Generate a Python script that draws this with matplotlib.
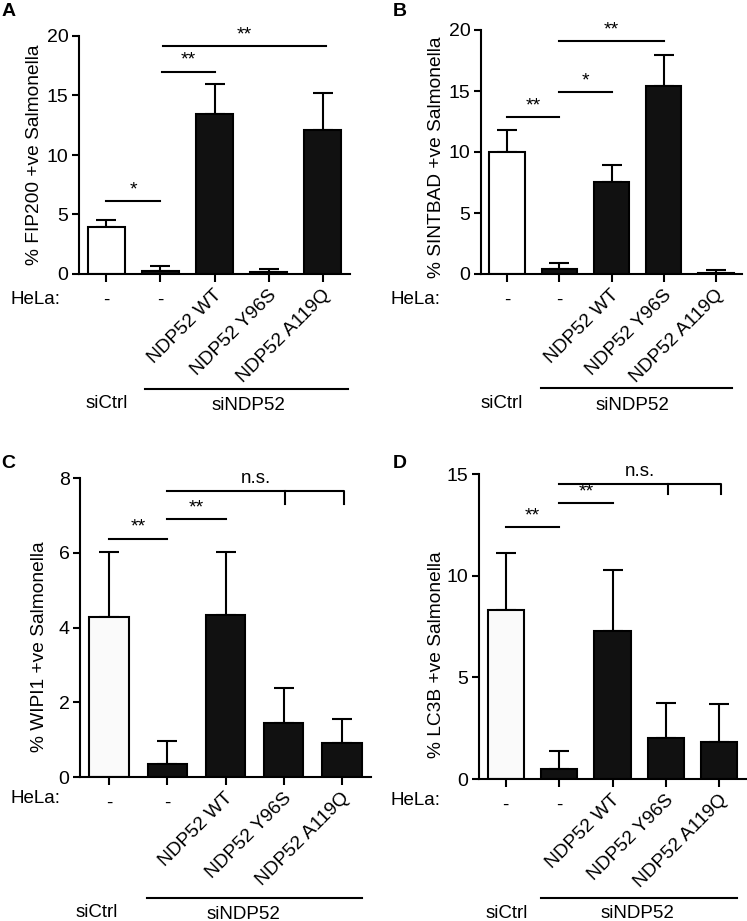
import matplotlib
matplotlib.use("Agg")
import matplotlib.pyplot as plt
from matplotlib.lines import Line2D

plt.rcParams['font.family'] = ['Liberation Sans', 'DejaVu Sans']

W, H = 747, 921

hela = ["-", "-", "NDP52 WT", "NDP52 Y96S", "NDP52 A119Q"]

# panel A - FIP200
fip_mean = [3.95, 0.25, 13.45, 0.2, 12.1]
fip_err = [0.55, 0.4, 2.5, 0.2, 3.1]
# panel B - SINTBAD
sint_mean = [10.0, 0.45, 7.55, 15.45, 0.1]
sint_err = [1.8, 0.45, 1.4, 2.5, 0.2]
# panel C - WIPI1
wipi_mean = [4.28, 0.35, 4.33, 1.45, 0.9]
wipi_err = [1.73, 0.62, 1.7, 0.93, 0.65]
# panel D - LC3B
lc3_mean = [8.32, 0.5, 7.28, 2.0, 1.82]
lc3_err = [2.8, 0.9, 3.02, 1.72, 1.87]

fig = plt.figure(figsize=(W / 100, H / 100), dpi=100)


def px_axes(l, t, r, b):
    return fig.add_axes([l / W, 1 - b / H, (r - l) / W, (b - t) / H])


def ftext(x, y, s, **kw):
    fig.text(x / W, 1 - y / H, s, **kw)


def fline(x0, x1, y):
    fig.add_artist(Line2D([x0 / W, x1 / W], [1 - y / H, 1 - y / H],
                          transform=fig.transFigure, color='black', lw=1.5))


def panel(box, means, errs, ymax, yticks, first_color, sigs, ns=None):
    ax = px_axes(*box)
    x = list(range(len(means)))
    colors = [first_color] + ['#111111'] * (len(means) - 1)
    ax.bar(x, means, width=0.68, color=colors, edgecolor='black', linewidth=1.5, zorder=2)
    ax.errorbar(x, means, yerr=[[0] * len(errs), errs], fmt='none', ecolor='black',
                elinewidth=1.5, capsize=7, capthick=1.5, zorder=1)
    ax.set_xlim(-0.5, 4.5)
    ax.set_ylim(0, ymax)
    ax.set_yticks(yticks)
    ax.set_xticks(x)
    ax.set_xticklabels([])
    for s in ['top', 'right']:
        ax.spines[s].set_visible(False)
    for s in ['left', 'bottom']:
        ax.spines[s].set_linewidth(1.5)
    ax.tick_params(axis='both', width=1.5, length=5, labelsize=14, pad=2.5)
    ax.tick_params(axis='x', length=6)
    for i, lab in enumerate(hela):
        if lab == "-":
            ax.annotate(lab, xy=(i, 0), xycoords=('data', 'axes fraction'),
                        xytext=(0, -19), textcoords='offset points',
                        ha='center', va='center', fontsize=13.5)
        else:
            ax.annotate(lab, xy=(i, 0), xycoords=('data', 'axes fraction'),
                        xytext=(8, -9), textcoords='offset points',
                        ha='right', va='top', rotation=45, fontsize=13.8)
    for a, b, yv, lab in sigs:
        ax.plot([a, b], [yv, yv], color='black', lw=1.5, clip_on=False)
        ax.annotate(lab, xy=((a + b) / 2, yv), xytext=(0, 2), textcoords='offset points',
                    ha='center', va='bottom', fontsize=14, annotation_clip=False)
    if ns is not None:
        a, b, yv, ydrop, mid = ns
        ax.plot([a, b, b], [yv, yv, ydrop], color='black', lw=1.5, clip_on=False)
        ax.plot([mid, mid], [yv, ydrop], color='black', lw=1.5, clip_on=False)
        ax.annotate("n.s.", xy=((a + b) / 2, yv), xytext=(0, 3), textcoords='offset points',
                    ha='center', va='bottom', fontsize=13.5, annotation_clip=False)
    return ax


# A
panel((79, 36, 350, 274), fip_mean, fip_err, 20, [0, 5, 10, 15, 20], 'white',
      [(0, 1, 6.15, "*"), (1.03, 2, 17.0, "**"), (1.05, 4.05, 19.15, "**")])
ftext(35, 155, "% FIP200 +ve Salmonella", rotation=90, ha='center', va='center', fontsize=13.8)
ftext(35, 299, "HeLa:", ha='center', va='center', fontsize=13.5)
fline(145, 348, 389)
ftext(107, 403, "siCtrl", ha='center', va='center', fontsize=13.5)
ftext(248, 406, "siNDP52", ha='center', va='center', fontsize=13.5)
ftext(9, 12, "A", ha='center', va='center', fontsize=14, fontweight='bold')

# B
panel((481, 30, 742, 274), sint_mean, sint_err, 20, [0, 5, 10, 15, 20], 'white',
      [(0, 1, 12.85, "**"), (1, 2, 14.9, "*"), (1, 3, 19.07, "**")])
ftext(436, 157, "% SINTBAD +ve Salmonella", rotation=90, ha='center', va='center', fontsize=13.8)
ftext(415, 300, "HeLa:", ha='center', va='center', fontsize=13.5)
fline(541, 732, 388)
ftext(502, 403, "siCtrl", ha='center', va='center', fontsize=13.5)
ftext(632, 406, "siNDP52", ha='center', va='center', fontsize=13.5)
ftext(400, 12, "B", ha='center', va='center', fontsize=14, fontweight='bold')

# C
panel((80, 478, 371, 777), wipi_mean, wipi_err, 8, [0, 2, 4, 6, 8], '#fafafa',
      [(0, 1, 6.38, "**"), (1, 2, 6.89, "**")], ns=(1, 4.03, 7.66, 7.3, 3.03))
ftext(40, 647, "% WIPI1 +ve Salmonella", rotation=90, ha='center', va='center', fontsize=13.8)
ftext(35, 798, "HeLa:", ha='center', va='center', fontsize=13.5)
fline(147, 362, 898)
ftext(97, 912, "siCtrl", ha='center', va='center', fontsize=13.5)
ftext(243, 914, "siNDP52", ha='center', va='center', fontsize=13.5)
ftext(8, 463, "C", ha='center', va='center', fontsize=14, fontweight='bold')

# D
panel((479, 474, 746, 779), lc3_mean, lc3_err, 15, [0, 5, 10, 15], '#fafafa',
      [(0, 1, 12.38, "**"), (1, 2, 13.56, "**")], ns=(1, 4.03, 14.5, 14.0, 3.03))
ftext(437, 655, "% LC3B +ve Salmonella", rotation=90, ha='center', va='center', fontsize=13.8)
ftext(415, 800, "HeLa:", ha='center', va='center', fontsize=13.5)
fline(541, 737, 898)
ftext(507, 913, "siCtrl", ha='center', va='center', fontsize=13.5)
ftext(637, 913, "siNDP52", ha='center', va='center', fontsize=13.5)
ftext(400, 463, "D", ha='center', va='center', fontsize=14, fontweight='bold')

fig.savefig("out.png", dpi=100)
